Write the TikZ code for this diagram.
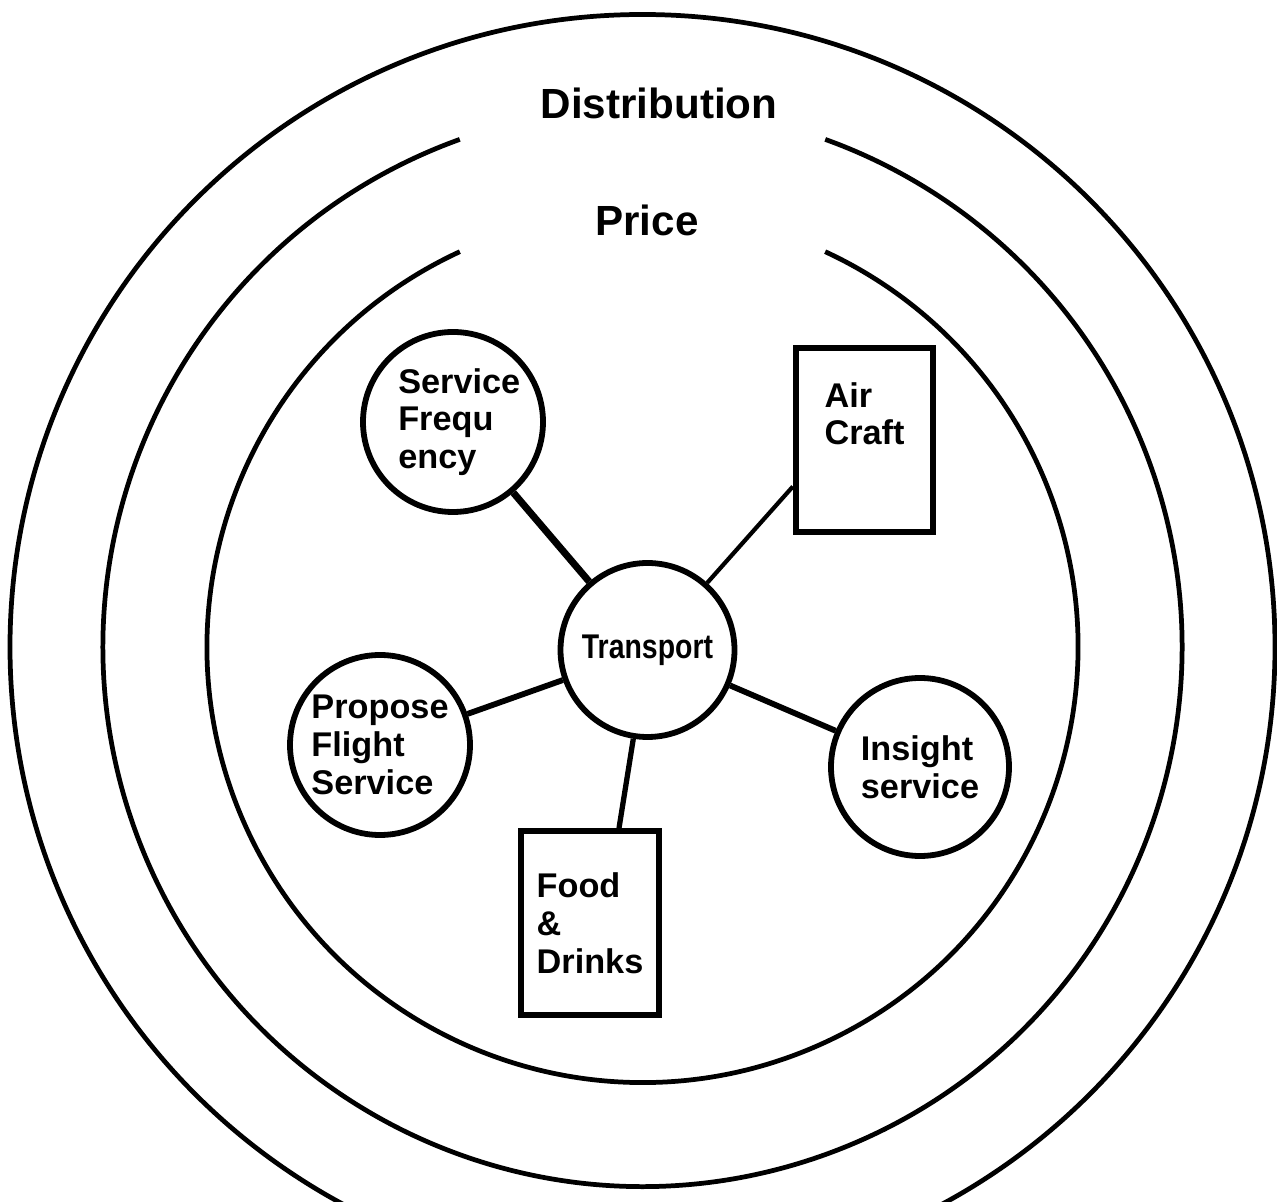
\documentclass[tikz,border=0pt]{standalone}
\usepackage{fontspec}
\setmainfont{Liberation Sans}
\usetikzlibrary{positioning}

\begin{document}
\begin{tikzpicture}[
  ring/.style={line width=2.7pt},
  ringlabel/.style={font=\fontsize{24}{28}\selectfont\bfseries},
  bubble/.style={draw, circle, line width=3.3pt, inner sep=0pt, minimum size=3.6cm, align=left, font=\fontsize{19.5}{21.5}\selectfont\bfseries},
  card/.style={draw, rectangle, line width=3.3pt, inner sep=0pt, minimum width=2.75cm, minimum height=3.68cm, align=left, font=\fontsize{19.5}{21.5}\selectfont\bfseries},
  spoke/.style={line width=3.3pt}
]
  \useasboundingbox (0, 0) rectangle (25.54, 24.04);
  \coordinate (hub) at (12.85, 11.1);

  % Rings
  \begin{scope}
    \clip (0, 0) rectangle (25.54, 24.04);
    \draw[ring] (hub) circle[radius=12.65];
  \end{scope}
  \draw[ring] ([shift={(109.8:10.79)}]hub) arc[start angle=109.8, end angle=430.2, radius=10.79];
  \draw[ring] ([shift={(114.8:8.71)}]hub) arc[start angle=114.8, end angle=425.2, radius=8.71];

  % Ring labels
  \node[ringlabel] (dist) at (13.18, 21.98) {Distribution};
  \node[ringlabel] (price) at (12.94, 19.64) {Price};

  % Core
  \node[bubble, minimum size=3.48cm] (trans) at (12.95, 11.04) {\scalebox{0.83}[1]{Transport}};

  % Elements round the core
  \node[bubble] (freq) at (9.06, 15.6) {\hspace{0.25cm}Service\\\hspace{0.25cm}Frequ\\\hspace{0.25cm}ency};
  \node[card] (craft) at (17.29, 15.24) {Air\\Craft\\[0.3cm]};
  \node[bubble] (propose) at (7.6, 9.14) {Propose\\Flight\\Service};
  \node[bubble, minimum size=3.56cm] (insight) at (18.4, 8.7) {Insight\\service};
  \node[card] (food) at (11.8, 5.58) {Food\\\&\\Drinks};

  % Spokes
  \draw[spoke, line width=4pt] (freq) -- (trans);
  \draw[spoke, line width=2.4pt] (trans) -- (craft.213);
  \draw[spoke] (propose) -- (trans);
  \draw[spoke] (trans) -- (insight);
  \draw[spoke, line width=3pt] (trans) -- (food.73);
\end{tikzpicture}
\end{document}
